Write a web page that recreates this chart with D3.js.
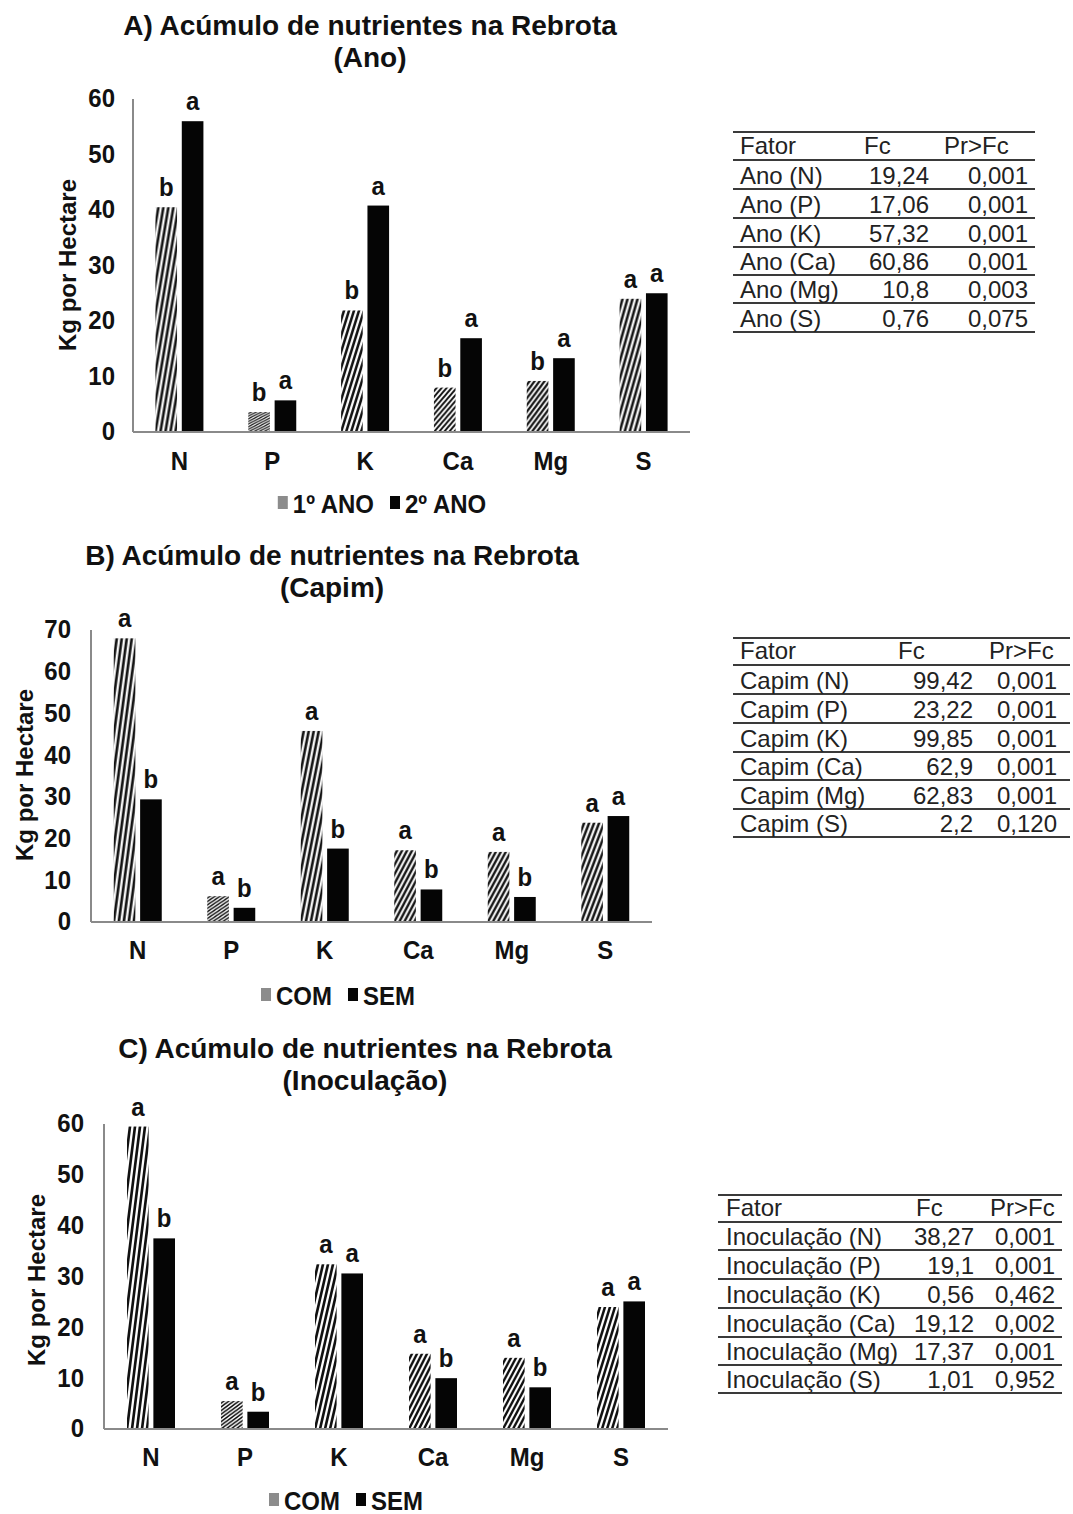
<!DOCTYPE html>
<html>
<head>
<meta charset="utf-8">
<script src="https://cdn.jsdelivr.net/npm/d3@7"></script>
<style>
  body { margin: 0; background: #fff; }
  svg { display: block; font-family: "Liberation Sans", Arial, sans-serif; }
</style>
</head>
<body>
<div id="chart"></div>
<script>
// categories
var nutrients = ["N", "P", "K", "Ca", "Mg", "S"]

// A) Ano
var ano1 = [40.5, 3.6, 21.9, 8.0, 9.2, 24.0]
var ano2 = [56.0, 5.7, 40.8, 16.9, 13.3, 25.0]
var anoLetters1 = ["b", "b", "b", "b", "b", "a"]
var anoLetters2 = ["a", "a", "a", "a", "a", "a"]
var anoLegend = ["1º ANO", "2º ANO"]
var anoTicks = [0, 10, 20, 30, 40, 50, 60]

// B) Capim
var capimCom = [68.0, 6.2, 45.8, 17.2, 16.8, 23.8]
var capimSem = [29.4, 3.4, 17.6, 7.8, 6.0, 25.4]
var capimLetters1 = ["a", "a", "a", "a", "a", "a"]
var capimLetters2 = ["b", "b", "b", "b", "b", "a"]
var capimTicks = [0, 10, 20, 30, 40, 50, 60, 70]

// C) Inoculação
var inocCom = [59.5, 5.5, 32.4, 14.8, 14.0, 24.0]
var inocSem = [37.5, 3.4, 30.6, 10.0, 8.2, 25.1]
var inocLetters1 = ["a", "a", "a", "a", "a", "a"]
var inocLetters2 = ["b", "b", "a", "b", "b", "a"]
var comSemLegend = ["COM", "SEM"]
var inocTicks = [0, 10, 20, 30, 40, 50, 60]

// tabelas
var tableHeader = ["Fator", "Fc", "Pr>Fc"]
var anoTable = [
	["Ano (N)", "19,24", "0,001"],
	["Ano (P)", "17,06", "0,001"],
	["Ano (K)", "57,32", "0,001"],
	["Ano (Ca)", "60,86", "0,001"],
	["Ano (Mg)", "10,8", "0,003"],
	["Ano (S)", "0,76", "0,075"]
]
var capimTable = [
	["Capim (N)", "99,42", "0,001"],
	["Capim (P)", "23,22", "0,001"],
	["Capim (K)", "99,85", "0,001"],
	["Capim (Ca)", "62,9", "0,001"],
	["Capim (Mg)", "62,83", "0,001"],
	["Capim (S)", "2,2", "0,120"]
]
var inocTable = [
	["Inoculação (N)", "38,27", "0,001"],
	["Inoculação (P)", "19,1", "0,001"],
	["Inoculação (K)", "0,56", "0,462"],
	["Inoculação (Ca)", "19,12", "0,002"],
	["Inoculação (Mg)", "17,37", "0,001"],
	["Inoculação (S)", "1,01", "0,952"]
]

var svg = d3.select("#chart")
	.append("svg")
	.attr("width", 1073)
	.attr("height", 1514)

var defs = svg.append("defs")
var patId = 0
var SY = 1.1 // chart text in the figure is slightly stretched vertically

// stretched hatch like the original image fill
function hatch(x, y, h) {
	var id = "hatch" + (patId++)
	var k = Math.max(h / 38, 0.45)
	var p = defs.append("pattern")
		.attr("id", id)
		.attr("patternUnits", "userSpaceOnUse")
		.attr("width", 5)
		.attr("height", 5)
		.attr("patternTransform", "translate(" + x + "," + y + ") scale(1," + k + ")")
	p.append("rect").attr("width", 5).attr("height", 5).attr("fill", "#fff")
	p.append("path")
		.attr("d", "M-1,1 L1,-1 M0,5 L5,0 M4,6 L6,4")
		.attr("stroke", "#111")
		.attr("stroke-width", 1.9)
	return "url(#" + id + ")"
}

function btext(sel, x, y, txt, anchor) {
	return sel.append("text")
		.attr("transform", "translate(" + x + "," + y + ") scale(1," + SY + ")")
		.attr("text-anchor", anchor || "start")
		.style("font-size", "24px")
		.style("font-weight", "bold")
		.attr("fill", "#111")
		.text(txt)
}

function drawPanel(cfg) {
	var g = svg.append("g")

	g.append("text")
		.attr("x", cfg.titleX)
		.attr("y", cfg.titleY)
		.attr("text-anchor", "middle")
		.style("font-size", "28px")
		.style("font-weight", "bold")
		.attr("fill", "#111")
		.text(cfg.title1)
	g.append("text")
		.attr("x", cfg.titleX)
		.attr("y", cfg.titleY + 32)
		.attr("text-anchor", "middle")
		.style("font-size", "28px")
		.style("font-weight", "bold")
		.attr("fill", "#111")
		.text(cfg.title2)

	var x = d3.scaleBand().domain(nutrients).range([cfg.x0, cfg.x1])
	var xs = d3.scaleBand().domain([0, 1]).range([-24, 24]).paddingInner(0.18)
	var y = d3.scaleLinear().domain([0, cfg.max]).range([cfg.yBase, cfg.yTop])

	// y axis ticks
	var yAxis = d3.axisLeft(y).tickValues(cfg.ticks).tickSize(0).tickPadding(0)
	var ya = g.append("g")
		.attr("transform", "translate(" + cfg.tickRight + ",0)")
		.call(yAxis)
	ya.select(".domain").remove()
	ya.selectAll("text")
		.attr("transform", "scale(1," + SY + ")")
		.attr("dy", "0.3em")
		.style("font-size", "24px")
		.style("font-weight", "bold")
		.style("font-family", "'Liberation Sans', Arial, sans-serif")
		.attr("fill", "#111")

	g.append("text")
		.attr("transform", "translate(" + cfg.yLabelX + "," + cfg.yLabelY + ") rotate(-90)")
		.attr("text-anchor", "middle")
		.attr("dy", "0.35em")
		.style("font-size", "24px")
		.style("font-weight", "bold")
		.attr("fill", "#111")
		.text("Kg por Hectare")

	// bars
	var rows = nutrients.map(function(n, i) {
		return [
			{ n: n, s: 0, v: cfg.v1[i], l: cfg.l1[i] },
			{ n: n, s: 1, v: cfg.v2[i], l: cfg.l2[i] }
		]
	})
	var flat = [].concat.apply([], rows)

	g.selectAll(".bar")
		.data(flat)
		.join("rect")
		.attr("class", "bar")
		.attr("x", d => x(d.n) + x.bandwidth() / 2 + xs(d.s))
		.attr("y", d => y(d.v))
		.attr("width", xs.bandwidth())
		.attr("height", d => y(0) - y(d.v))
		.attr("fill", function(d) {
			if (d.s == 1) return "#050505"
			return hatch(x(d.n) + x.bandwidth() / 2 + xs(d.s), y(0), y(0) - y(d.v))
		})

	flat.forEach(function(d) {
		btext(g, x(d.n) + x.bandwidth() / 2 + xs(d.s) + xs.bandwidth() / 2, y(d.v) - 11, d.l, "middle")
	})

	// axis lines
	g.append("line")
		.attr("x1", cfg.x0).attr("x2", cfg.x0)
		.attr("y1", y(0)).attr("y2", y(cfg.max))
		.attr("stroke", "#8a8a8a").attr("stroke-width", 2)
	g.append("line")
		.attr("x1", cfg.x0).attr("x2", cfg.x1)
		.attr("y1", y(0)).attr("y2", y(0))
		.attr("stroke", "#8a8a8a").attr("stroke-width", 2)

	var xa = g.append("g")
		.attr("transform", "translate(0," + cfg.catY + ")")
		.call(d3.axisBottom(x).tickSize(0).tickPadding(0))
	xa.select(".domain").remove()
	xa.selectAll("text")
		.attr("dy", 0)
		.attr("transform", "scale(1," + SY + ")")
		.style("font-size", "24px")
		.style("font-weight", "bold")
		.style("font-family", "'Liberation Sans', Arial, sans-serif")
		.attr("fill", "#111")

	// legend, centred on legCx
	var lg = g.append("g")
	lg.append("rect").attr("class", "sw0").attr("y", cfg.legY - 17).attr("width", 10).attr("height", 13).attr("fill", "#8c8c8c")
	var t0 = btext(lg, 0, cfg.legY, cfg.legend[0])
	lg.append("rect").attr("class", "sw1").attr("y", cfg.legY - 17).attr("width", 10).attr("height", 13).attr("fill", "#050505")
	var t1 = btext(lg, 0, cfg.legY, cfg.legend[1])
	var w0 = t0.node().getComputedTextLength()
	var w1 = t1.node().getComputedTextLength()
	var total = 15 + w0 + 16 + 15 + w1
	var sx = cfg.legCx - total / 2
	lg.select(".sw0").attr("x", sx)
	t0.attr("transform", "translate(" + (sx + 15) + "," + cfg.legY + ") scale(1," + SY + ")")
	lg.select(".sw1").attr("x", sx + 15 + w0 + 16)
	t1.attr("transform", "translate(" + (sx + 15 + w0 + 31) + "," + cfg.legY + ") scale(1," + SY + ")")
}

function drawTable(t) {
	var g = svg.append("g")
	t.lines.forEach(function(ly) {
		g.append("line")
			.attr("x1", t.x0).attr("x2", t.x1)
			.attr("y1", ly).attr("y2", ly)
			.attr("stroke", "#3a3a3a").attr("stroke-width", 2)
	})
	var font = "24px"
	g.append("text").attr("x", t.c0).attr("y", t.lines[1] - 6).style("font-size", font).attr("fill", "#222").text(tableHeader[0])
	g.append("text").attr("x", t.c1h).attr("y", t.lines[1] - 6).style("font-size", font).attr("fill", "#222").text(tableHeader[1])
	g.append("text").attr("x", t.c2h).attr("y", t.lines[1] - 6).style("font-size", font).attr("fill", "#222").text(tableHeader[2])
	t.rows.forEach(function(r, i) {
		var by = t.lines[i + 2] - 5
		g.append("text").attr("x", t.c0).attr("y", by).style("font-size", font).attr("fill", "#222").text(r[0])
		g.append("text").attr("x", t.c1).attr("y", by).attr("text-anchor", "end").style("font-size", font).attr("fill", "#222").text(r[1])
		g.append("text").attr("x", t.c2).attr("y", by).attr("text-anchor", "end").style("font-size", font).attr("fill", "#222").text(r[2])
	})
}

drawPanel({
	title1: "A) Acúmulo de nutrientes na Rebrota", title2: "(Ano)",
	titleX: 370, titleY: 35,
	x0: 133, x1: 690, yBase: 432, yTop: 99, max: 60, ticks: anoTicks,
	tickRight: 115, yLabelX: 68, yLabelY: 265, catY: 470,
	v1: ano1, v2: ano2, l1: anoLetters1, l2: anoLetters2,
	legend: anoLegend, legCx: 382, legY: 513
})
drawTable({
	x0: 733, x1: 1035, lines: [132, 160, 189, 218, 247, 275, 303, 332],
	c0: 740, c1h: 864, c1: 929, c2h: 944, c2: 1028, rows: anoTable
})

drawPanel({
	title1: "B) Acúmulo de nutrientes na Rebrota", title2: "(Capim)",
	titleX: 332, titleY: 565,
	x0: 91, x1: 652, yBase: 922, yTop: 630, max: 70, ticks: capimTicks,
	tickRight: 71, yLabelX: 25, yLabelY: 775, catY: 959,
	v1: capimCom, v2: capimSem, l1: capimLetters1, l2: capimLetters2,
	legend: comSemLegend, legCx: 338, legY: 1005
})
drawTable({
	x0: 733, x1: 1070, lines: [638, 665, 694, 723, 752, 780, 809, 837],
	c0: 740, c1h: 898, c1: 973, c2h: 989, c2: 1057, rows: capimTable
})

drawPanel({
	title1: "C) Acúmulo de nutrientes na Rebrota", title2: "(Inoculação)",
	titleX: 365, titleY: 1058,
	x0: 104, x1: 668, yBase: 1429, yTop: 1124, max: 60, ticks: inocTicks,
	tickRight: 84, yLabelX: 37, yLabelY: 1280, catY: 1466,
	v1: inocCom, v2: inocSem, l1: inocLetters1, l2: inocLetters2,
	legend: comSemLegend, legCx: 346, legY: 1510
})
drawTable({
	x0: 718, x1: 1062, lines: [1195, 1222, 1250, 1279, 1308, 1337, 1365, 1393],
	c0: 726, c1h: 916, c1: 974, c2h: 990, c2: 1055, rows: inocTable
})
</script>
</body>
</html>
